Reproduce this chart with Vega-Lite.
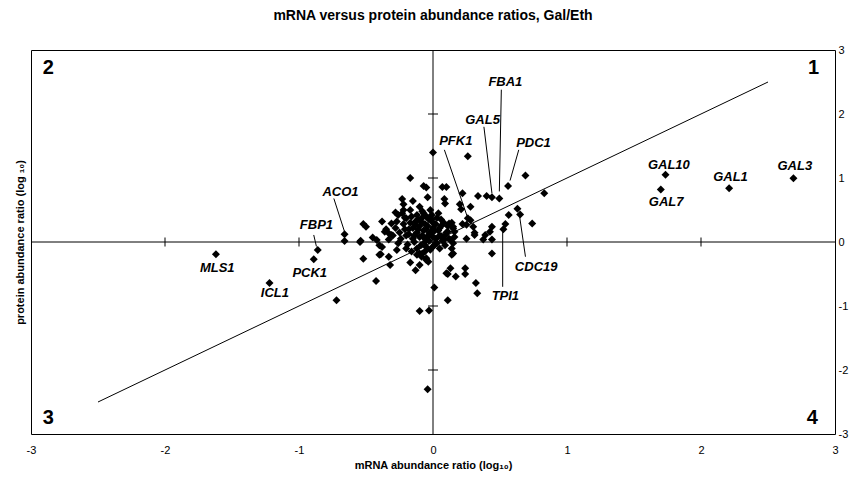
{
  "$schema": "https://vega.github.io/schema/vega-lite/v6.json",
  "width": 804,
  "height": 384,
  "autosize": {"type": "none"},
  "padding": {"left": 31, "top": 50, "right": 23, "bottom": 44},
  "background": "white",
  "title": {"text": "mRNA versus protein abundance ratios, Gal/Eth", "offset": 21, "fontSize": 14, "fontWeight": "bold", "font": "Liberation Sans", "color": "black", "anchor": "middle"},
  "config": {
    "view": {"stroke": "black", "strokeWidth": 1},
    "font": "Liberation Sans",
    "axis": {"labelFont": "Liberation Sans", "titleFont": "Liberation Sans", "labelColor": "black", "titleColor": "black", "grid": false, "domain": false, "ticks": false, "labelFontSize": 11, "titleFontSize": 11, "titleFontWeight": "bold", "labelFlush": false, "labelOverlap": false, "labelExpr": "'' + datum.value"}
  },
  "datasets": {
    "pts": [
      {"x": -0.02, "y": 0.15}, {"x": -0.05, "y": 0.2}, {"x": -0.08, "y": 0.1}, {"x": -0.1, "y": 0.25}, {"x": 0.02, "y": 0.05},
      {"x": 0.0, "y": 0.3}, {"x": -0.03, "y": 0.35}, {"x": -0.12, "y": 0.15}, {"x": -0.15, "y": 0.05}, {"x": -0.06, "y": 0.0},
      {"x": 0.04, "y": 0.18}, {"x": 0.06, "y": 0.25}, {"x": -0.01, "y": 0.42}, {"x": -0.07, "y": 0.45}, {"x": -0.13, "y": 0.32},
      {"x": -0.18, "y": 0.2}, {"x": -0.2, "y": 0.1}, {"x": -0.22, "y": 0.28}, {"x": -0.25, "y": 0.15}, {"x": -0.16, "y": 0.4},
      {"x": -0.04, "y": 0.08}, {"x": 0.01, "y": -0.05}, {"x": -0.09, "y": -0.05}, {"x": 0.03, "y": 0.38}, {"x": 0.05, "y": 0.1},
      {"x": -0.11, "y": 0.2}, {"x": -0.14, "y": 0.0}, {"x": -0.19, "y": -0.04}, {"x": -0.24, "y": 0.05}, {"x": -0.28, "y": 0.22},
      {"x": 0.08, "y": 0.3}, {"x": 0.1, "y": 0.15}, {"x": 0.12, "y": 0.05}, {"x": -0.02, "y": 0.5}, {"x": -0.1, "y": 0.55},
      {"x": -0.17, "y": 0.5}, {"x": -0.21, "y": 0.38}, {"x": -0.3, "y": 0.1}, {"x": -0.26, "y": -0.02}, {"x": 0.0, "y": 0.22},
      {"x": -0.03, "y": 0.12}, {"x": -0.06, "y": 0.28}, {"x": -0.08, "y": 0.38}, {"x": -0.12, "y": 0.42}, {"x": 0.02, "y": 0.28},
      {"x": 0.04, "y": 0.45}, {"x": -0.05, "y": -0.08}, {"x": -0.1, "y": 0.08}, {"x": -0.15, "y": 0.22}, {"x": -0.07, "y": 0.18},
      {"x": 0.07, "y": 0.02}, {"x": 0.09, "y": -0.05}, {"x": -0.02, "y": -0.12}, {"x": -0.12, "y": -0.1}, {"x": -0.18, "y": 0.12},
      {"x": -0.23, "y": 0.45}, {"x": -0.27, "y": 0.32}, {"x": -0.33, "y": 0.04}, {"x": -0.35, "y": 0.2}, {"x": 0.0, "y": 0.08},
      {"x": 0.03, "y": -0.02}, {"x": -0.04, "y": 0.25}, {"x": -0.09, "y": 0.32}, {"x": -0.13, "y": 0.27}, {"x": -0.01, "y": 0.35},
      {"x": 0.06, "y": 0.35}, {"x": 0.11, "y": 0.25}, {"x": -0.06, "y": 0.05}, {"x": -0.2, "y": -0.1}, {"x": -0.16, "y": -0.15},
      {"x": -0.03, "y": 0.02}, {"x": 0.05, "y": 0.22}, {"x": -0.11, "y": 0.36}, {"x": -0.17, "y": 0.3}, {"x": -0.08, "y": 0.48},
      {"x": 0.01, "y": 0.17}, {"x": -0.14, "y": 0.1}, {"x": -0.05, "y": 0.4}, {"x": 0.09, "y": 0.1}, {"x": -0.21, "y": 0.2},
      {"x": 0.0, "y": 1.4}, {"x": 0.26, "y": 1.34}, {"x": 0.69, "y": 1.04}, {"x": 0.56, "y": 0.875}, {"x": 0.495, "y": 0.68},
      {"x": 0.44, "y": 0.7}, {"x": 0.4, "y": 0.72}, {"x": 0.336, "y": 0.72}, {"x": 0.83, "y": 0.76}, {"x": -0.17, "y": 1.0},
      {"x": -0.07, "y": 0.875}, {"x": -0.05, "y": 0.85}, {"x": 0.07, "y": 0.86}, {"x": 0.1, "y": 0.86}, {"x": -0.04, "y": 0.7},
      {"x": 0.085, "y": 0.67}, {"x": 0.09, "y": 0.6}, {"x": 0.22, "y": 0.76}, {"x": 0.2, "y": 0.59}, {"x": 0.21, "y": 0.51},
      {"x": 0.28, "y": 0.55}, {"x": -0.23, "y": 0.67}, {"x": -0.22, "y": 0.59}, {"x": -0.15, "y": 0.64}, {"x": 0.63, "y": 0.52},
      {"x": 0.65, "y": 0.43}, {"x": 0.565, "y": 0.42}, {"x": 0.54, "y": 0.28}, {"x": 0.525, "y": 0.2}, {"x": 0.44, "y": 0.24},
      {"x": 0.74, "y": 0.29}, {"x": 0.3, "y": 0.24}, {"x": 0.28, "y": 0.34}, {"x": 0.26, "y": 0.37}, {"x": 0.22, "y": 0.28},
      {"x": 0.25, "y": 0.27}, {"x": 0.31, "y": 0.145}, {"x": 0.425, "y": 0.16}, {"x": 0.39, "y": 0.11}, {"x": 0.31, "y": 0.11},
      {"x": 0.25, "y": 0.05}, {"x": 0.375, "y": 0.04}, {"x": 0.44, "y": 0.04},
      {"x": -0.28, "y": 0.46}, {"x": -0.26, "y": 0.42}, {"x": -0.38, "y": 0.32}, {"x": -0.31, "y": 0.29}, {"x": -0.52, "y": 0.28},
      {"x": -0.5, "y": 0.24}, {"x": -0.36, "y": 0.16}, {"x": -0.33, "y": 0.135}, {"x": -0.31, "y": 0.11}, {"x": -0.45, "y": 0.07},
      {"x": -0.42, "y": 0.03}, {"x": -0.4, "y": -0.05}, {"x": -0.38, "y": -0.08}, {"x": -0.54, "y": 0.02}, {"x": -0.66, "y": 0.12},
      {"x": -0.66, "y": 0.015}, {"x": -0.22, "y": 0.5}, {"x": -0.2, "y": 0.37},
      {"x": 0.12, "y": 0.29}, {"x": 0.15, "y": 0.21}, {"x": 0.11, "y": 0.16}, {"x": 0.16, "y": 0.08}, {"x": 0.15, "y": -0.02},
      {"x": 0.14, "y": -0.1}, {"x": 0.15, "y": -0.18}, {"x": 0.065, "y": 0.09}, {"x": 0.08, "y": 0.03}, {"x": 0.0, "y": -0.07},
      {"x": 0.05, "y": -0.1}, {"x": 0.14, "y": 0.3}, {"x": 0.15, "y": 0.24}, {"x": 0.16, "y": 0.16}, {"x": 0.13, "y": 0.03},
      {"x": 0.44, "y": -0.18}, {"x": 0.11, "y": -0.5}, {"x": 0.17, "y": -0.54}, {"x": 0.13, "y": -0.41}, {"x": 0.24, "y": -0.41},
      {"x": 0.24, "y": -0.5}, {"x": 0.1, "y": -0.49}, {"x": 0.32, "y": -0.64}, {"x": 0.33, "y": -0.8}, {"x": 0.11, "y": -0.91},
      {"x": 0.01, "y": -0.71}, {"x": -0.1, "y": -1.08}, {"x": -0.03, "y": -1.07}, {"x": -0.72, "y": -0.91}, {"x": -0.425, "y": -0.61},
      {"x": -0.13, "y": -0.44}, {"x": -0.17, "y": -0.32}, {"x": -0.05, "y": -0.28}, {"x": -0.1, "y": -0.18}, {"x": -0.27, "y": -0.125},
      {"x": -0.33, "y": -0.23}, {"x": -0.39, "y": -0.19}, {"x": -0.52, "y": -0.26}, {"x": -0.545, "y": 0.0}, {"x": -0.89, "y": -0.27},
      {"x": -0.86, "y": -0.125}, {"x": -1.62, "y": -0.19}, {"x": -1.22, "y": -0.64}, {"x": -0.1, "y": -0.36}, {"x": -0.12, "y": -0.2},
      {"x": -0.08, "y": -0.18}, {"x": -0.05, "y": -0.255}, {"x": -0.06, "y": -0.15}, {"x": -0.32, "y": -0.36}, {"x": -0.035, "y": -0.31},
      {"x": -0.085, "y": -0.23}, {"x": 0.14, "y": -0.2}, {"x": -0.4, "y": -0.2}, {"x": -0.04, "y": -2.3},
      {"x": 1.735, "y": 1.05}, {"x": 1.7, "y": 0.82}, {"x": 2.21, "y": 0.84}, {"x": 2.69, "y": 0.995}
    ],
    "genes": [
      {"gene": "MLS1", "x": -1.61, "y": -0.41},
      {"gene": "ICL1", "x": -1.18, "y": -0.8},
      {"gene": "PCK1", "x": -0.92, "y": -0.48},
      {"gene": "FBP1", "x": -0.87, "y": 0.27},
      {"gene": "ACO1", "x": -0.69, "y": 0.78},
      {"gene": "PFK1", "x": 0.17, "y": 1.58},
      {"gene": "GAL5", "x": 0.37, "y": 1.91},
      {"gene": "FBA1", "x": 0.54, "y": 2.5},
      {"gene": "PDC1", "x": 0.75, "y": 1.54},
      {"gene": "CDC19", "x": 0.77, "y": -0.39},
      {"gene": "TPI1", "x": 0.54, "y": -0.84},
      {"gene": "GAL10", "x": 1.76, "y": 1.21},
      {"gene": "GAL7", "x": 1.74, "y": 0.62},
      {"gene": "GAL1", "x": 2.22, "y": 1.02},
      {"gene": "GAL3", "x": 2.7, "y": 1.18}
    ],
    "leaders": [
      {"x": -0.89, "y": 0.11, "x2": -0.87, "y2": -0.07},
      {"x": -0.74, "y": 0.68, "x2": -0.66, "y2": 0.16},
      {"x": 0.085, "y": 1.44, "x2": 0.26, "y2": 0.37},
      {"x": 0.38, "y": 1.8, "x2": 0.44, "y2": 0.76},
      {"x": 0.51, "y": 2.38, "x2": 0.495, "y2": 0.79},
      {"x": 0.64, "y": 1.44, "x2": 0.575, "y2": 0.96},
      {"x": 0.69, "y": -0.23, "x2": 0.645, "y2": 0.42},
      {"x": 0.52, "y": -0.7, "x2": 0.52, "y2": 0.16}
    ],
    "diag": [{"x": -2.5, "y": -2.5, "x2": 2.5, "y2": 2.5}],
    "quads": [
      {"q": "2", "x": -2.87, "y": 2.72},
      {"q": "1", "x": 2.84, "y": 2.72},
      {"q": "3", "x": -2.87, "y": -2.75},
      {"q": "4", "x": 2.83, "y": -2.75}
    ],
    "tickvals": [{"v": -2}, {"v": -1}, {"v": 1}, {"v": 2}],
    "one": [{"z": 0}]
  },
  "resolve": {"axis": {"y": "independent"}},
  "layer": [
    {
      "data": {"name": "pts"},
      "mark": {"type": "point", "shape": "diamond", "filled": true, "color": "black", "size": 64, "opacity": 1},
      "encoding": {
        "x": {"field": "x", "type": "quantitative", "scale": {"domain": [-3, 3], "nice": false, "zero": false},
              "axis": {"orient": "bottom", "values": [-3, -2, -1, 0, 1, 2, 3], "labelPadding": 10, "titlePadding": 4, "title": "mRNA abundance ratio (log₁₀)"}},
        "y": {"field": "y", "type": "quantitative", "scale": {"domain": [-3, 3], "nice": false, "zero": false},
              "axis": {"orient": "right", "values": [-3, -2, -1, 0, 1, 2, 3], "labelPadding": 3, "title": null}}
      }
    },
    {
      "data": {"name": "one"},
      "mark": {"type": "rule", "color": "black", "strokeWidth": 1},
      "encoding": {
        "y": {"field": "z", "type": "quantitative", "axis": {"orient": "left", "labels": false, "title": "protein abundance ratio (log ₁₀)", "titlePadding": 6}}
      }
    },
    {
      "data": {"name": "one"},
      "mark": {"type": "rule", "color": "black", "strokeWidth": 1},
      "encoding": {"x": {"field": "z", "type": "quantitative"}}
    },
    {
      "data": {"name": "tickvals"},
      "mark": {"type": "tick", "orient": "vertical", "color": "black", "size": 9, "thickness": 1, "opacity": 1},
      "encoding": {
        "x": {"field": "v", "type": "quantitative"},
        "y": {"datum": 0, "type": "quantitative", "axis": null}
      }
    },
    {
      "data": {"name": "tickvals"},
      "mark": {"type": "tick", "orient": "horizontal", "color": "black", "size": 10, "thickness": 1, "opacity": 1},
      "encoding": {
        "y": {"field": "v", "type": "quantitative", "axis": null},
        "x": {"datum": 0, "type": "quantitative"}
      }
    },
    {
      "data": {"name": "diag"},
      "mark": {"type": "rule", "color": "black", "strokeWidth": 1},
      "encoding": {
        "x": {"field": "x", "type": "quantitative"},
        "y": {"field": "y", "type": "quantitative", "axis": null},
        "x2": {"field": "x2"},
        "y2": {"field": "y2"}
      }
    },
    {
      "data": {"name": "leaders"},
      "mark": {"type": "rule", "color": "black", "strokeWidth": 1},
      "encoding": {
        "x": {"field": "x", "type": "quantitative"},
        "y": {"field": "y", "type": "quantitative", "axis": null},
        "x2": {"field": "x2"},
        "y2": {"field": "y2"}
      }
    },
    {
      "data": {"name": "genes"},
      "mark": {"type": "text", "font": "Liberation Sans", "fontSize": 13, "fontWeight": "bold", "fontStyle": "italic", "color": "black", "align": "center", "baseline": "middle"},
      "encoding": {
        "x": {"field": "x", "type": "quantitative"},
        "y": {"field": "y", "type": "quantitative", "axis": null},
        "text": {"field": "gene"}
      }
    },
    {
      "data": {"name": "quads"},
      "mark": {"type": "text", "font": "Liberation Sans", "fontSize": 20, "fontWeight": "bold", "color": "black", "align": "center", "baseline": "middle"},
      "encoding": {
        "x": {"field": "x", "type": "quantitative"},
        "y": {"field": "y", "type": "quantitative", "axis": null},
        "text": {"field": "q"}
      }
    }
  ]
}
